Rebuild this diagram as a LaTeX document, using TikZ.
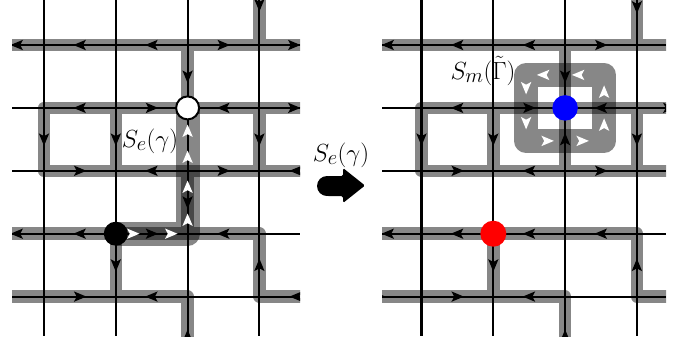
\documentclass[tikz,border=0pt]{standalone}
\definecolor{bandgray}{gray}{0.53}
\tikzset{
  band/.style={line width=12.5bp, draw=bandgray, line join=round},
  sband/.style={line width=24bp, draw=black, draw opacity=0.47, line join=round},
  gridline/.style={line width=2.1bp, draw=black},
  flowtip/.pic={\fill (6.5,0) -- (-6,5.2) -- (-3.2,0) -- (-6,-5.2) -- cycle;},
  dot/.style={circle, inner sep=0pt},
  lab/.style={inner sep=0pt, font=\Huge},
}
\newcommand\arw[4][black]{\pic[#1,rotate=#4] at (#2,#3) {flowtip};}
\newcommand\commonbands{%
  \draw[band] (-60,\rA) -- (360,\rA);
  \draw[band] (\cD,-30) -- (\cD,\rA);
  \draw[band] (\cC,\rA) -- (\cC,\rB);
  \draw[band] (360,\rB) -- (\cA,\rB) -- (\cA,\rC) -- (360,\rC);
  \draw[band] (\cB,\rB) -- (\cB,\rC);
  \draw[band] (\cD,\rB) -- (\cD,\rC);
  \draw[band] (-60,\rD) -- (\cD,\rD) -- (\cD,\rE) -- (360,\rE);
  \draw[band] (\cB,\rD) -- (\cB,\rE);
  \draw[band] (-60,\rE) -- (\cC,\rE) -- (\cC,380);
}
\newcommand\gridlines[2]{%
  \foreach \yy in {\rA,\rB,\rC,\rD,\rE} {\draw[gridline] (#1,\yy) -- (#2,\yy);}
  \foreach \xx in {\cA,\cB,\cC,\cD} {\draw[gridline] (\xx,0) -- (\xx,336);}
}
\newcommand\commonarrows{%
  \arw{\mA}{\rA}{180} \arw{\mB}{\rA}{180} \arw{\mC}{\rA}{0}
  \arw{\cC}{\nA}{270}
  \arw{\mA}{\rB}{180} \arw{\mB}{\rB}{0} \arw{\mC}{\rB}{180}
  \arw{\cA}{\nB}{270} \arw{\cB}{\nB}{270} \arw{\cD}{\nB}{270}
  \arw{\mA}{\rC}{0} \arw{\mB}{\rC}{180} \arw{\mC}{\rC}{0}
  \arw{\mA}{\rD}{180} \arw{\mC}{\rD}{180}
  \arw{\cB}{\nD}{270} \arw{\cD}{\nD}{90}
  \arw{\mA}{\rE}{0} \arw{\mB}{\rE}{180}
  \arw{\cC}{336}{90}
}
\begin{document}
\begin{tikzpicture}[x=1bp,y=-1bp]
\useasboundingbox (0,0) rectangle (695,345);
\def\cA{44}\def\cB{115.8}\def\cC{187.6}\def\cD{259.4}
\def\rA{45}\def\rB{107.9}\def\rC{170.8}\def\rD{233.7}\def\rE{296.6}
\def\mA{79.9}\def\mB{151.7}\def\mC{223.5}
\def\nA{76.45}\def\nB{139.35}\def\nC{202.25}\def\nD{265.15}

% ---------- left panel ----------
\begin{scope}
  \clip (12,0) rectangle (300,336);
  \commonbands
  \draw[band] (\cC,\rC) -- (\cC,\rD);
  \draw[sband] (\cB,\rD) -- (\cC,\rD) -- (\cC,\rB);
  \gridlines{12}{300}
  \commonarrows
  \arw{\mB}{\rD}{0}
  \arw{\cC}{\nC}{270}
  \arw{17}{\rA}{180} \arw{17}{\rD}{180}
  \arw{294}{\rA}{0} \arw{294}{\rB}{0}
  \arw{296}{\rC}{180} \arw{296}{\rE}{180}
  \arw{\cD}{5}{270}
  \arw[white]{133}{\rD}{0} \arw[white]{171}{\rD}{0}
  \arw[white]{\cC}{220}{90} \arw[white]{\cC}{187}{90}
  \arw[white]{\cC}{157}{90} \arw[white]{\cC}{131}{90}
\end{scope}
\node[dot, fill=white, draw=black, line width=2bp, minimum size=23bp] (wcirc) at (\cC,\rB) {};
\node[dot, fill=black, minimum size=24bp] (bcirc) at (\cB,\rD) {};
\node[lab] (lse) at (150,141) {$S_e(\gamma)$};

% ---------- middle arrow ----------
\fill (327,186) circle (10);
\fill[rounded corners=1.5bp] (327,176) -- (343,176) -- (343,168) -- (365,185.5) -- (343,203) -- (343,196) -- (327,196) -- cycle;
\node[lab] (lmid) at (341,155) {$S_e(\gamma)$};

% ---------- right panel ----------
\begin{scope}[xshift=377.5bp]
  \clip (4.5,0) rectangle (288.5,336);
  \commonbands
  \draw[band] (\cC,\rB) -- (\cC,\rC);
  \draw[sband] (\cC-39,\rB-33) rectangle (\cC+39,\rB+33);
  \gridlines{4.5}{288.5}
  \commonarrows
  \arw{\mB}{\rD}{180}
  \arw{\cC}{\nB}{90}
  \arw{10.5}{\rA}{180} \arw{10.5}{\rD}{180}
  \arw{1.5}{\rE}{0} \arw{291.5}{\rB}{0}
  \arw{\cD}{7}{270}
  \arw[white]{\cC-21.7}{\rB-33}{180} \arw[white]{\cC+13.3}{\rB-33}{180}
  \arw[white]{\cC-17.7}{\rB+33}{0} \arw[white]{\cC+17.3}{\rB+33}{0}
  \arw[white]{\cC-39}{\rB-20}{270} \arw[white]{\cC-39}{\rB+15}{270}
  \arw[white]{\cC+39}{\rB-16}{90} \arw[white]{\cC+39}{\rB+17}{90}
  \node[dot, fill=blue, minimum size=25.5bp] (bluec) at (\cC,\rB) {};
  \node[dot, fill=red, minimum size=26bp] (redc) at (\cB,\rD) {};
\end{scope}
\node[lab] (lsm) at (483,71) {$S_m(\tilde\Gamma)$};
\end{tikzpicture}
\end{document}
